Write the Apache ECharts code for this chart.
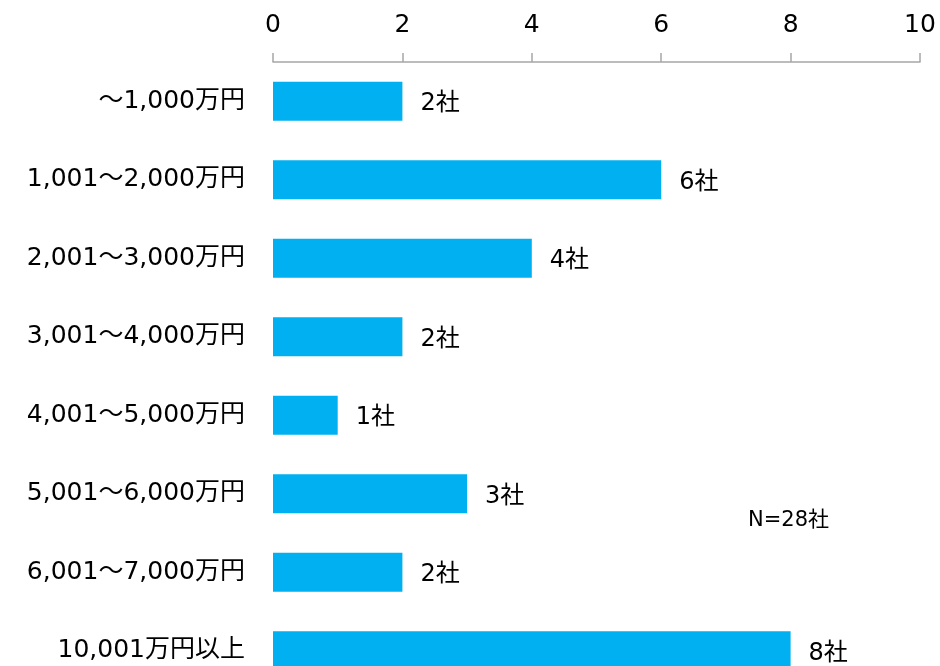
<!DOCTYPE html>
<html>
<head>
<meta charset="utf-8">
<script src="https://cdn.jsdelivr.net/npm/echarts@6/dist/echarts.min.js"></script>
<style>
html,body{margin:0;padding:0;background:#fff;}
#main{width:940px;height:666px;}
</style>
</head>
<body>
<div id="main"></div>
<script>
// 資本金別の社数
var categories = ['～1,000万円','1,001～2,000万円','2,001～3,000万円','3,001～4,000万円','4,001～5,000万円','5,001～6,000万円','6,001～7,000万円','10,001万円以上'];
var counts = [2, 6, 4, 2, 1, 3, 2, 8];
var xTicks = [0, 2, 4, 6, 8, 10];
var noteText = 'N=28社';

var fontFam = '"DejaVu Sans", "Noto Sans CJK JP", sans-serif';

var myChart = echarts.init(document.getElementById('main'));
var option = {
	animation: false,
	grid: {
		left: 273,
		width: 647,
		top: 62,
		height: 628,
		outerBoundsMode: 'none'
	},
	xAxis: {
		type: 'value',
		position: 'top',
		min: xTicks[0],
		max: xTicks[xTicks.length - 1],
		interval: 2,
		splitLine: {show: false},
		axisLine: {show: true, lineStyle: {color: '#a6a6a6', width: 1.5}},
		axisTick: {show: true, length: 9, lineStyle: {color: '#a6a6a6', width: 1.5}},
		axisLabel: {color: '#000', fontSize: 25, fontFamily: fontFam, margin: 24}
	},
	yAxis: {
		type: 'category',
		inverse: true,
		data: categories,
		axisLine: {show: false},
		axisTick: {show: false},
		axisLabel: {color: '#000', fontSize: 25, fontFamily: fontFam, margin: 28, padding: [5, 0, 0, 0]}
	},
	series: [{
		type: 'bar',
		data: counts,
		barWidth: 39,
		itemStyle: {color: '#00b0f0'},
		label: {
			show: true,
			position: 'right',
			distance: 18,
			offset: [0, 3],
			color: '#000',
			fontSize: 24,
			fontFamily: fontFam,
			formatter: function(p){ return p.value + '社'; }
		}
	}],
	graphic: [{
		type: 'text',
		left: 748,
		top: 510,
		style: {text: noteText, fontSize: 21, fontFamily: fontFam, fill: '#000'}
	}]
};
myChart.setOption(option);
</script>
</body>
</html>
